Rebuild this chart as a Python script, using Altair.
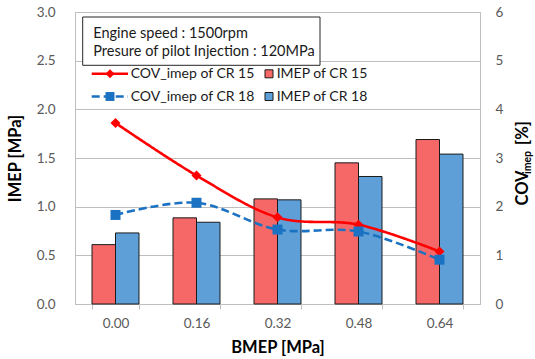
import altair as alt
import pandas as pd

# ---- data ----
bmep = ["0.00", "0.16", "0.32", "0.48", "0.64"]
imep_cr15 = [0.61, 0.885, 1.08, 1.45, 1.69]
imep_cr18 = [0.73, 0.84, 1.07, 1.31, 1.54]
cov_cr15 = [3.72, 2.64, 1.78, 1.63, 1.08]
cov_cr18 = [1.83, 2.08, 1.53, 1.49, 0.91]
bar_names = ["IMEP of CR 15", "IMEP of CR 18"]
line_names = ["COV_imep of CR 15", "COV_imep of CR 18"]
note_lines = ["Engine speed : 1500rpm", "Presure of pilot Injection : 120MPa"]

FONT = "Lato"
RED_BAR = "#f66868"
BLUE_BAR = "#5f9fd8"
RED = "#ff0000"
BLUE = "#1b72c2"
GRID = "#bfbfbf"

bar_df = pd.DataFrame({
    "bmep": bmep * 2,
    "imep": imep_cr15 + imep_cr18,
    "series": [bar_names[0]] * 5 + [bar_names[1]] * 5,
})
line_df = pd.DataFrame({
    "bmep": bmep * 2,
    "cov": cov_cr15 + cov_cr18,
    "series": [line_names[0]] * 5 + [line_names[1]] * 5,
})

x_enc = alt.X(
    "bmep:N", sort=bmep,
    scale=alt.Scale(paddingInner=0.42, paddingOuter=0.21),
    axis=alt.Axis(
        title="BMEP [MPa]", labelAngle=0, tickBand="extent", ticks=True,
        tickSize=5, tickColor=GRID, domainColor=GRID, labelPadding=7,
        titleY=43, titleBaseline="middle",
    ),
)

bars = alt.Chart(bar_df).mark_bar(stroke="#1a1a1a", strokeWidth=1).encode(
    x=x_enc,
    xOffset=alt.XOffset("series:N", sort=bar_names, scale=alt.Scale(paddingInner=0, paddingOuter=0)),
    y=alt.Y("imep:Q", scale=alt.Scale(domain=[0, 3]),
            axis=alt.Axis(title="IMEP [MPa]", values=[0, 0.5, 1, 1.5, 2, 2.5, 3], format=".1f",
                          ticks=False, domain=False, labelPadding=20, grid=True,
                          titleX=-59.5, titleY=146, titleAngle=270,
                          titleBaseline="middle", titleAlign="center")),
    fill=alt.Fill("series:N", scale=alt.Scale(domain=bar_names, range=[RED_BAR, BLUE_BAR]), legend=None),
)

def y2():
    return alt.Y("cov:Q", scale=alt.Scale(domain=[0, 6]),
                 axis=alt.Axis(title=None, orient="right", values=[0, 1, 2, 3, 4, 5, 6],
                               ticks=False, domain=False, grid=False, labelPadding=15))

color_enc = alt.Color("series:N", scale=alt.Scale(domain=line_names, range=[RED, BLUE]), legend=None)

lines = alt.Chart(line_df).mark_line(interpolate="cardinal", strokeWidth=2.6).encode(
    x=alt.X("bmep:N", sort=bmep),
    y=y2(),
    color=color_enc,
    strokeDash=alt.StrokeDash("series:N", scale=alt.Scale(domain=line_names, range=[[1, 0], [8, 4]]), legend=None),
)
points = alt.Chart(line_df).mark_point(filled=True, opacity=1, size=100).encode(
    x=alt.X("bmep:N", sort=bmep),
    y=y2(),
    color=color_enc,
    shape=alt.Shape("series:N", scale=alt.Scale(domain=line_names, range=["diamond", "square"]), legend=None),
)
line_layer = alt.layer(lines, points)

# ---- annotation box and legend (decorations) ----
one = pd.DataFrame({"k": [0]})
base = alt.Chart(one)
box = base.mark_rect(fill="white", stroke="#262626", strokeWidth=1).encode(
    x=alt.value(7.7), x2=alt.value(245), y=alt.value(5), y2=alt.value(53.3))
note1 = base.mark_text(text=note_lines[0], align="left", baseline="middle", font=FONT, fontSize=14.5, color="#1a1a1a").encode(
    x=alt.value(18.3), y=alt.value(21.8))
note2 = base.mark_text(text=note_lines[1], align="left", baseline="middle", font=FONT, fontSize=14.5, color="#1a1a1a").encode(
    x=alt.value(18.3), y=alt.value(39.5))

leg = []
rows_y = [61.8, 84.5]
line_colors = [RED, BLUE]
dashes = [[1, 0], [8, 4]]
shapes = ["diamond", "square"]
bar_colors = [RED_BAR, BLUE_BAR]
for i in range(2):
    leg.append(base.mark_rule(color=line_colors[i], strokeWidth=2.6, strokeDash=dashes[i]).encode(
        x=alt.value(16.7), x2=alt.value(53), y=alt.value(rows_y[i])))
    leg.append(base.mark_point(filled=True, opacity=1, shape=shapes[i], size=80, color=line_colors[i]).encode(
        x=alt.value(35), y=alt.value(rows_y[i])))
    leg.append(base.mark_text(text=line_names[i], align="left", baseline="middle", font=FONT, fontSize=14, color="#1a1a1a").encode(
        x=alt.value(55.7), y=alt.value(rows_y[i])))
    leg.append(base.mark_point(filled=True, opacity=1, shape="square", size=64, fill=bar_colors[i], stroke="#1a1a1a", strokeWidth=1).encode(
        x=alt.value(194), y=alt.value(rows_y[i])))
    leg.append(base.mark_text(text=bar_names[i], align="left", baseline="middle", font=FONT, fontSize=14, color="#1a1a1a").encode(
        x=alt.value(201.7), y=alt.value(rows_y[i])))

# right axis title with subscript
rt1 = base.mark_text(text="COV", angle=270, align="center", baseline="middle", font=FONT, fontSize=16.5, fontWeight="bold", color="black").encode(
    x=alt.value(448), y=alt.value(176))
rt2 = base.mark_text(text="imep", angle=270, align="center", baseline="middle", font=FONT, fontSize=10.5, fontWeight="bold", color="black").encode(
    x=alt.value(453), y=alt.value(150.5))
rt3 = base.mark_text(text="[%]", angle=270, align="center", baseline="middle", font=FONT, fontSize=16.5, fontWeight="bold", color="black").encode(
    x=alt.value(448), y=alt.value(121))

chart = alt.layer(
    bars, line_layer, box, note1, note2, *leg, rt1, rt2, rt3
).resolve_scale(
    y="independent", color="independent", fill="independent"
).properties(
    width=405, height=292, background="white",
    autosize=alt.AutoSizeParams(type="none"),
    padding={"left": 75, "top": 12, "right": 55, "bottom": 55},
).configure_view(
    stroke=GRID, strokeWidth=1
).configure_axis(
    labelFont=FONT, labelFontSize=13.5, labelColor="#595959",
    titleFont=FONT, titleFontSize=16.5, titleFontWeight="bold", titleColor="black",
    gridColor=GRID, gridWidth=1,
)

chart.save("out.html", embed_options={"renderer": "svg", "actions": False})
